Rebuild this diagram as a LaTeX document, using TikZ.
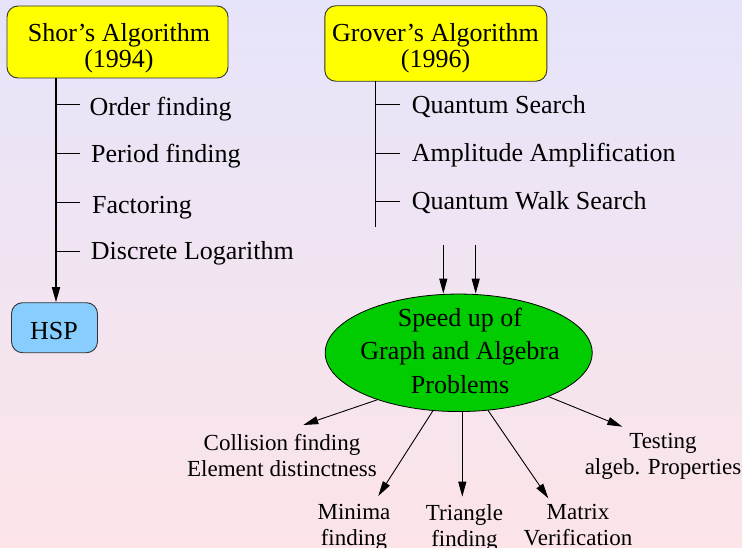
\documentclass[tikz,border=0pt]{standalone}
\usepackage{fontspec}
\setmainfont{Liberation Serif}
\usetikzlibrary{arrows.meta,shapes.geometric}
\definecolor{bgtop}{HTML}{E6E4FA}
\definecolor{bgbot}{HTML}{FCE4E8}
\definecolor{algyellow}{HTML}{FFFF00}
\definecolor{hspblue}{HTML}{87CEFF}
\definecolor{speedgreen}{HTML}{00CC00}
\definecolor{edge}{HTML}{333333}
\newcommand\mainfnt{\fontsize{26}{26.3}\selectfont}
\newcommand\ellfnt{\fontsize{26}{33.3}\selectfont}
\newcommand\smallfnt{\fontsize{23}{26}\selectfont}
\tikzset{
  algbox/.style={draw=edge, line width=0.9pt, fill=algyellow, rounded corners=11pt, inner sep=0pt},
  hspbox/.style={draw=edge, line width=0.9pt, fill=hspblue, rounded corners=11pt, inner sep=0pt},
  boxtext/.style={font=\mainfnt, align=center, inner sep=0pt, anchor=base},
  itemtext/.style={font=\mainfnt, inner sep=0pt, anchor=base west},
  resulttext/.style={font=\smallfnt, align=center, inner sep=0pt, anchor=base},
  trunk/.style={line width=1.5pt},
  thinline/.style={line width=0.8pt},
  arr/.style={line width=0.9pt, -{Triangle[length=15pt,width=8pt]}},
}
\begin{document}
\begin{tikzpicture}[x=1pt,y=-1pt]
\shade[top color=bgtop, bottom color=bgbot] (0,0) rectangle (742,548);
\useasboundingbox (0,0) rectangle (742,548);

% Shor
\node[algbox, minimum width=221pt, minimum height=72pt] (shor) at (117.5,42) {};
\node[boxtext] (shortxt) at (119,68) {Shor’s Algorithm\\(1994)};
\node[hspbox, minimum width=86pt, minimum height=50pt] (hsp) at (54.5,327.7) {};
\node[boxtext] (hsptxt) at (54,339.3) {HSP};
\coordinate (sv) at (56,78);
\draw[trunk, -{Triangle[length=15pt,width=8pt]}] (sv) -- (sv |- hsp.north);
\coordinate (st1) at (56,104);
\coordinate (st2) at (56,153);
\coordinate (st3) at (56,202);
\coordinate (st4) at (56,251.5);
\foreach \c in {st1,st2,st3,st4} \draw[thinline] (\c) -- ++(24,0);
\node[itemtext] (order) at (89.3,116) {Order finding};
\node[itemtext] (period) at (91,162.7) {Period finding};
\node[itemtext] (fact) at (92,213.3) {Factoring};
\node[itemtext] (dlog) at (90.7,260) {Discrete Logarithm};

% Grover
\node[algbox, minimum width=222pt, minimum height=75.5pt] (grover) at (435.8,43.5) {};
\node[boxtext] (grovertxt) at (435.5,68) {Grover’s Algorithm\\(1996)};
\coordinate (gv) at (375.7,81.3);
\coordinate (gvend) at (375.7,226.7);
\draw[thinline] (gv) -- (gvend);
\coordinate (gt1) at (375.7,104);
\coordinate (gt2) at (375.7,153.3);
\coordinate (gt3) at (375.7,201.7);
\foreach \c in {gt1,gt2,gt3} \draw[thinline] (\c) -- ++(24.3,0);
\node[itemtext] (qsearch) at (411.7,113.3) {Quantum Search};
\node[itemtext] (ampl) at (411.7,161.7) {Amplitude Amplification};
\node[itemtext] (qwalk) at (411.7,210) {Quantum Walk Search};

% Speed-up ellipse
\node[ellipse, draw=black, line width=0.8pt, fill=speedgreen, minimum width=267pt, minimum height=117.5pt, inner sep=0pt] (speed) at (458.7,352.8) {};
\node[font=\ellfnt, align=center, inner sep=0pt, anchor=base] (speedtxt) at (460,393) {Speed up of\\Graph and Algebra\\Problems};
\coordinate (in1) at (443.3,245);
\coordinate (in2) at (475.7,245);
\draw[arr] (in1) -- (in1 |- speed.north);
\draw[arr] (in2) -- (in2 |- speed.north);

% Results
\node[resulttext] (coll) at (282,476.7) {Collision finding\\Element distinctness};
\node[resulttext] (minima) at (354,545) {Minima\\finding};
\node[resulttext] (tri) at (464.5,546) {Triangle\\finding};
\node[resulttext] (matrix) at (578,545.5) {Matrix\\Verification};
\node[resulttext] (testing) at (663,474) {Testing\\algeb. Properties};
\coordinate (tcoll) at (303.3,425);
\coordinate (tmin) at (378.3,496);
\coordinate (ttri) at (462.3,496.7);
\coordinate (tmat) at (548.3,498.3);
\coordinate (ttest) at (622.3,426.7);
\draw[arr] (speed.-150.6) -- (tcoll);
\draw[arr] (speed.-114.1) -- (tmin);
\draw[arr] (ttri |- speed.south) -- (ttri);
\draw[arr] (speed.-63) -- (tmat);
\draw[arr] (speed.-26.5) -- (ttest);
\end{tikzpicture}
\end{document}
